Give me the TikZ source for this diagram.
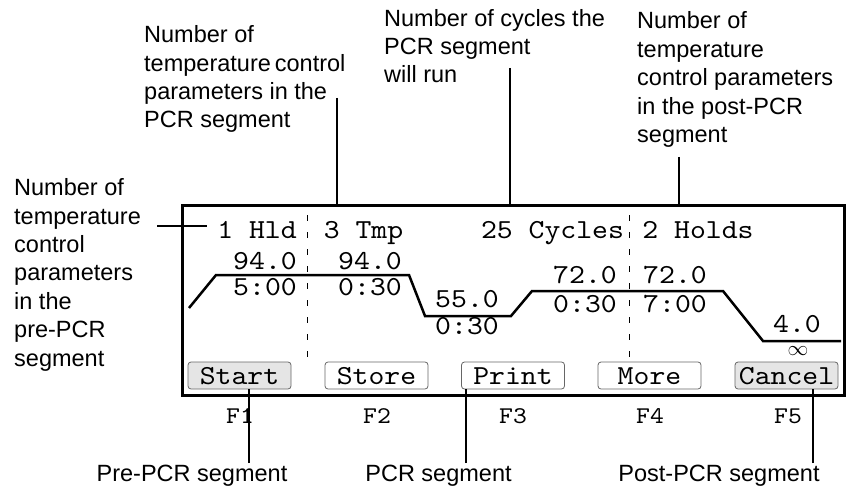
\documentclass[tikz,border=0pt]{standalone}
\usepackage{fontspec}
\setmainfont{Liberation Sans}
\newfontfamily\scrfont{lmmono10-regular.otf}[FakeStretch=1.1]
\begin{document}
\begin{tikzpicture}[x=1pt,y=-1pt,
  lbl/.style={font=\fontsize{23.5}{28.4}\selectfont, align=left, inner sep=0pt, anchor=base west},
  blbl/.style={font=\fontsize{23.5}{28.4}\selectfont, inner sep=0pt, anchor=base},
  scr/.style={font=\fontsize{27.5}{30}\scrfont, inner sep=0pt, anchor=base},
  fkey/.style={font=\fontsize{24}{26}\scrfont, inner sep=0pt, anchor=base},
  btn/.style={draw=black!60, line width=0.8pt, rounded corners=3pt, minimum width=103pt,
    minimum height=27pt, inner sep=0pt, text height=17pt, text depth=0pt,
    font=\fontsize{27.5}{30}\scrfont},
  btnon/.style={btn, fill=black!10},
  lead/.style={line width=1.1pt},
  sep/.style={line width=1pt, dash pattern=on 6pt off 11pt},
  prof/.style={line width=2.5pt, line join=miter}
]
\useasboundingbox (0,0) rectangle (850,489);

% screen
\node[draw, line width=3pt, minimum width=662pt, minimum height=190pt, inner sep=0pt] (screen) at (513,300) {};

% header row
\node[scr] (seg1) at (257,238) {1 Hld};
\node[scr] (seg2) at (363.5,238) {3 Tmp};
\node[scr] (seg3) at (552.5,238) {25 Cycles};
\node[scr] (seg4) at (698,238) {2 Holds};

% separators
\coordinate (d1a) at (307,215); \coordinate (d1b) at (307,366);
\coordinate (d2a) at (629,215); \coordinate (d2b) at (629,362);
\draw[sep] (d1a) -- (d1b);
\draw[sep] (d2a) -- (d2b);

% profile
\coordinate (p0) at (189,308);
\coordinate (p1) at (216,275);
\coordinate (p2) at (409,275);
\coordinate (p3) at (425,316);
\coordinate (p4) at (511,316);
\coordinate (p5) at (532,291);
\coordinate (p6) at (723,291);
\coordinate (p7) at (763,341);
\coordinate (p8) at (841,341);
\draw[prof] (p0) -- (p1) -- (p2) -- (p3) -- (p4) -- (p5) -- (p6) -- (p7) -- (p8);

% temperatures and times
\node[scr] (t1) at (265,269) {94.0};
\node[scr] (h1) at (265,295) {5:00};
\node[scr] (t2) at (370,269) {94.0};
\node[scr] (h2) at (370,295) {0:30};
\node[scr] (t3) at (467,307) {55.0};
\node[scr] (h3) at (467,334) {0:30};
\node[scr] (t4) at (585,283) {72.0};
\node[scr] (h4) at (585,312) {0:30};
\node[scr] (t5) at (675,283) {72.0};
\node[scr] (h5) at (675,312) {7:00};
\node[scr] (t6) at (797,332) {4.0};
\node[font=\fontsize{20.74}{22}\selectfont, inner sep=0pt, text height=9pt, text depth=0pt, anchor=base] (inf) at (798,355) {$\infty$};

% buttons
\node[btnon] (start) at (239.5,375.5) {Start};
\node[btn] (store) at (376.5,375.5) {Store};
\node[btn] (print) at (513,375.5) {Print};
\node[btn] (more) at (649.5,375.5) {More};
\node[btnon] (cancel) at (786.5,375.5) {Cancel};

% function keys
\node[fkey] (f1) at (240,423) {F1};
\node[fkey] (f2) at (377,423) {F2};
\node[fkey] (f3) at (513,423) {F3};
\node[fkey] (f4) at (650,423) {F4};
\node[fkey] (f5) at (788,423) {F5};

% labels (base anchor = baseline of the last line)
\node[lbl] (lab1) at (14,366) {Number of\\temperature\\control\\parameters\\in the\\pre-PCR\\segment};
\node[lbl] (lab2) at (144,128) {Number of\\temperature\hspace{4pt}control\\parameters in the\\PCR segment};
\node[lbl] (lab3) at (384,83) {Number of cycles the\\PCR segment\\will run};
\node[lbl] (lab4) at (637,142.5) {Number of\\temperature\\control parameters\\in the post-PCR\\segment};

\node[blbl] (bl1) at (192,481) {Pre-PCR segment};
\node[blbl] (bl2) at (438.5,481) {PCR segment};
\node[blbl] (bl3) at (719,481) {Post-PCR segment};

% leaders
\coordinate (c1a) at (157,226); \coordinate (c1b) at (207,226);
\draw[lead] (c1a) -- (c1b);
\coordinate (c2) at (337,98);
\draw[lead] (c2) -- (c2 |- screen.north);
\coordinate (c3) at (510,68);
\draw[lead] (c3) -- (c3 |- screen.north);
\coordinate (c4) at (679,157);
\draw[lead] (c4) -- (c4 |- screen.north);

\coordinate (b1) at (249,463);
\draw[lead] (b1) -- (b1 |- start.south);
\coordinate (b2) at (466,463);
\draw[lead] (b2) -- (b2 |- print.south);
\coordinate (b3) at (813,463);
\draw[lead] (b3) -- (b3 |- cancel.south);
\end{tikzpicture}
\end{document}
